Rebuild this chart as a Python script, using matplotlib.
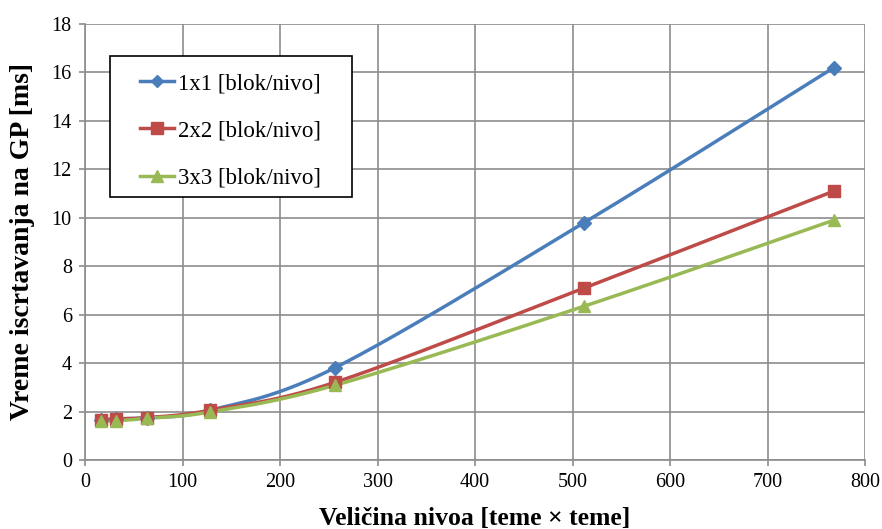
import numpy as np
import matplotlib
matplotlib.use("Agg")
import matplotlib.pyplot as plt
from matplotlib.patches import Rectangle

plt.rcParams['font.family'] = ['Liberation Serif', 'DejaVu Serif']

sizes = [16, 32, 64, 128, 256, 512, 768]
t_1x1 = [1.65, 1.70, 1.75, 2.05, 3.80, 9.80, 16.20]
t_2x2 = [1.65, 1.70, 1.75, 2.05, 3.20, 7.10, 11.10]
t_3x3 = [1.60, 1.62, 1.72, 1.98, 3.08, 6.35, 9.90]
labels = ['1x1 [blok/nivo]', '2x2 [blok/nivo]', '3x3 [blok/nivo]']
colors = ['#4a7ebb', '#be4b48', '#98b954']
markers = ['D', 's', '^']
msizes = [7, 9, 9]
leg_msizes = [6, 8, 8]


def smooth(xs, ys, n=40):
    """Cubic Bezier smoothing through the points (Catmull-Rom style tangents)."""
    p = np.column_stack([xs, ys]).astype(float)
    out = []
    for i in range(len(p) - 1):
        p0 = p[i - 1] if i > 0 else p[i]
        p1, p2 = p[i], p[i + 1]
        p3 = p[i + 2] if i + 2 < len(p) else p[i + 1]
        c1 = p1 + (p2 - p0) / 6.0
        c2 = p2 - (p3 - p1) / 6.0
        t = np.linspace(0, 1, n)[:, None]
        seg = ((1 - t) ** 3) * p1 + 3 * ((1 - t) ** 2) * t * c1 + 3 * (1 - t) * t ** 2 * c2 + t ** 3 * p2
        out.append(seg if i == 0 else seg[1:])
    c = np.vstack(out)
    return c[:, 0], c[:, 1]


W, H = 882, 529
fig = plt.figure(figsize=(W / 100, H / 100), dpi=100)
ax = fig.add_axes([85 / W, 1 - 460 / H, 780 / W, 436 / H])

for ys, lab, col, mk, ms, lms in zip([t_1x1, t_2x2, t_3x3], labels, colors, markers, msizes, leg_msizes):
    cx, cy = smooth(sizes, ys)
    ax.plot(cx, cy, color=col, lw=2.5, zorder=3)
    ax.plot(sizes, ys, linestyle='none', marker=mk, color=col, ms=ms, zorder=4)
    ax.plot([], [], color=col, lw=2.5, marker=mk, ms=lms, label=lab)

ax.set_xlim(0, 800)
ax.set_ylim(0, 18)
ax.set_xticks(np.arange(0, 801, 100))
ax.set_yticks(np.arange(0, 19, 2))
ax.grid(True, color='#8c8c8c', lw=1.2)
ax.set_axisbelow(True)
for s in ['top', 'right']:
    ax.spines[s].set_visible(False)
for s in ['left', 'bottom']:
    ax.spines[s].set_color('#8c8c8c')
    ax.spines[s].set_linewidth(1.2)
ax.tick_params(axis='both', labelsize=14.5, color='#8c8c8c', length=4.5, width=1.2, pad=5)

ax.set_xlabel('Veličina nivoa [teme × teme]', fontsize=18.5, fontweight='bold', labelpad=11)
ax.set_ylabel('Vreme iscrtavanja na GP [ms]', fontsize=20, fontweight='bold', labelpad=12)

# legend box drawn as a plain black rectangle in figure pixels
box = Rectangle((110 / W, 1 - 197 / H), 242 / W, 141 / H,
                transform=fig.transFigure, facecolor='white',
                edgecolor='black', lw=1.2, zorder=5, clip_on=False)
ax.add_patch(box)
leg = ax.legend(loc='upper left', bbox_to_anchor=(140 / W, 1 - 73 / H),
                bbox_transform=fig.transFigure, fontsize=16.5, frameon=False,
                handlelength=1.5, handletextpad=0.15, labelspacing=1.15,
                borderpad=0, borderaxespad=0)
leg.set_zorder(6)

fig.savefig('out.png', dpi=100)
